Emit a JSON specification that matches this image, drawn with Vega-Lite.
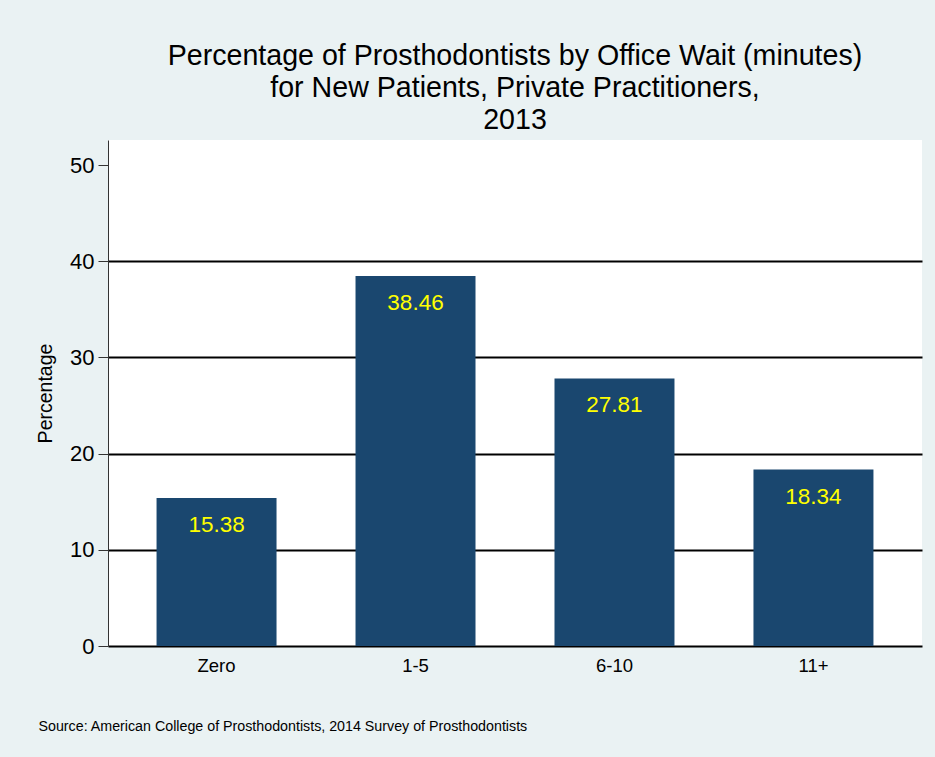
{
  "$schema": "https://vega.github.io/schema/vega-lite/v6.json",
  "autosize": {"type": "none"},
  "width": 814,
  "height": 506,
  "padding": {"left": 108, "top": 140, "right": 13, "bottom": 111},
  "background": "#EAF2F3",
  "title": {
    "text": ["Percentage of Prosthodontists by Office Wait (minutes)", "for New Patients, Private Practitioners,", "2013"],
    "font": "Liberation Sans",
    "fontSize": 28.6,
    "fontWeight": "normal",
    "color": "#000000",
    "lineHeight": 32,
    "anchor": "middle",
    "frame": "group",
    "offset": 5
  },
  "data": {
    "values": [
      {"wait": "Zero", "pct": 15.38},
      {"wait": "1-5", "pct": 38.46},
      {"wait": "6-10", "pct": 27.81},
      {"wait": "11+", "pct": 18.34}
    ]
  },
  "encoding": {
    "x": {
      "field": "wait",
      "type": "nominal",
      "sort": ["Zero", "1-5", "6-10", "11+"],
      "scale": {"paddingInner": 0.397, "paddingOuter": 0.244},
      "axis": {
        "title": "Source: American College of Prosthodontists, 2014 Survey of Prosthodontists",
        "titleFont": "Liberation Sans",
        "titleFontSize": 14.25,
        "titleFontWeight": "normal",
        "titleColor": "#000000",
        "titleAnchor": "start",
        "titleAlign": "left",
        "titleBaseline": "alphabetic",
        "titleX": -70,
        "titleY": 84,
        "labelAngle": 0,
        "labelFont": "Liberation Sans",
        "labelFontSize": 18.5,
        "labelColor": "#000000",
        "labelPadding": 10,
        "ticks": false,
        "domainColor": "#000000",
        "domainWidth": 2,
        "grid": false
      }
    },
    "y": {
      "field": "pct",
      "type": "quantitative",
      "scale": {"domain": [0, 52.6], "nice": false},
      "axis": {
        "title": "Percentage",
        "titleFont": "Liberation Sans",
        "titleFontSize": 19.5,
        "titleFontWeight": "normal",
        "titleColor": "#000000",
        "titlePadding": 14,
        "values": [0, 10, 20, 30, 40, 50],
        "labelFont": "Liberation Sans",
        "labelFontSize": 22,
        "labelColor": "#000000",
        "labelPadding": 4,
        "tickSize": 10,
        "tickColor": "#333333",
        "tickWidth": 1,
        "domainColor": "#333333",
        "domainWidth": 1,
        "grid": true,
        "gridColor": "#000000",
        "gridWidth": 2,
        "gridOpacity": {"condition": {"test": "datum.value >= 50 || datum.value <= 0", "value": 0}, "value": 1}
      }
    }
  },
  "layer": [
    {"mark": {"type": "bar", "color": "#1a476f"}},
    {
      "mark": {"type": "text", "color": "#FFFF00", "font": "Liberation Sans", "fontSize": 22.5, "baseline": "alphabetic", "dy": 34},
      "encoding": {"text": {"field": "pct", "type": "quantitative", "format": ".2f"}}
    }
  ],
  "config": {
    "view": {"fill": "#FFFFFF", "stroke": null}
  }
}
